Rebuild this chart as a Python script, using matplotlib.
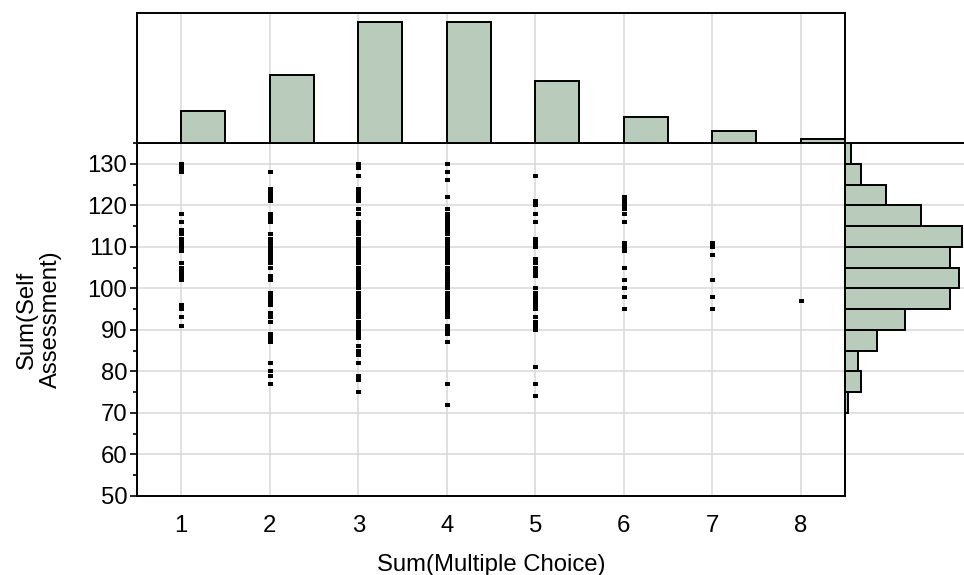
import numpy as np
import matplotlib
matplotlib.use("Agg")
import matplotlib.pyplot as plt
from matplotlib.ticker import MultipleLocator

plt.rcParams['font.family'] = ['Liberation Sans', 'DejaVu Sans']

# scatter points (unique x/y pairs) per Sum(Multiple Choice) value
col1 = [130, 129, 128, 118, 116, 114, 113, 112, 111, 110, 109, 106, 105, 104, 103, 102, 96, 95, 93, 91]
col2 = [128, 124, 123, 122, 121, 118, 117, 116, 113, 112, 111, 110, 109, 108, 107, 106, 105, 103, 102,
        99, 98, 97, 96, 94, 93, 92, 89, 88, 87, 82, 80, 79, 77]
col3 = [130, 129, 127, 124, 123, 122, 121, 119, 118, 116, 115, 114, 113, 112, 111, 110, 109, 108, 107,
        106, 105, 104, 103, 102, 101, 100, 99, 98, 97, 96, 95, 94, 93, 92, 91, 90, 89, 88, 86, 85, 84,
        82, 79, 78, 75]
col4 = [130, 128, 126, 122, 119, 118, 117, 116, 115, 114, 113, 112, 111, 110, 109, 108, 107, 106, 105,
        104, 103, 102, 101, 100, 99, 98, 97, 96, 95, 94, 93, 91, 90, 89, 87, 77, 72]
col5 = [127, 121, 120, 118, 116, 112, 111, 110, 107, 106, 105, 104, 103, 100, 99, 98, 97, 96, 95, 93,
        92, 91, 90, 81, 77, 74]
col6 = [122, 121, 120, 119, 118, 116, 111, 110, 109, 105, 102, 100, 98, 95]
col7 = [111, 110, 108, 102, 98, 95]
col8 = [97]
columns = [col1, col2, col3, col4, col5, col6, col7, col8]

# marginal histogram counts
mc_values = [1, 2, 3, 4, 5, 6, 7, 8]
mc_counts = [16, 34, 60, 60, 31, 13, 6, 2]
sa_bin_edges = [70, 75, 80, 85, 90, 95, 100, 105, 110, 115, 120, 125, 130, 135]
sa_counts = [1, 5, 4, 10, 19, 33, 36, 33, 37, 24, 13, 5, 2]

bar_color = '#b9cbbb'
grid_color = '#d9d9d9'
fs = 17.2

fig = plt.figure(figsize=(9.64, 5.75), dpi=100)
ax = fig.add_axes([0.1421, 0.1374, 0.7344, 0.6139])
ax_top = fig.add_axes([0.1421, 0.7513, 0.7344, 0.2261])
ax_right = fig.add_axes([0.8766, 0.1374, 0.1234, 0.6139])

# main scatter
rect = [(-1, -0.7), (1, -0.7), (1, 0.7), (-1, 0.7), (-1, -0.7)]
for xv, ys in zip(mc_values, columns):
    ax.plot([xv] * len(ys), ys, linestyle='none', marker=rect, markersize=3.6,
            color='black', markeredgewidth=0, zorder=3)

ax.set_xlim(0.5, 8.5)
ax.set_ylim(50, 135)
ax.set_xticks(mc_values)
ax.yaxis.set_major_locator(MultipleLocator(10))
ax.yaxis.set_minor_locator(MultipleLocator(5))
ax.set_yticks(np.arange(50, 131, 10))
ax.grid(True, color=grid_color, linewidth=1.1)
ax.set_axisbelow(True)
ax.tick_params(axis='both', which='major', direction='out', length=5, width=1.2,
               labelsize=fs, color='black', pad=2)
ax.tick_params(axis='y', which='minor', direction='out', length=3, width=1.2)
ax.tick_params(axis='x', which='major', length=0, pad=14)
for s in ax.spines.values():
    s.set_linewidth(1.4)
ax.set_xlabel('Sum(Multiple Choice)', fontsize=fs, labelpad=12)
ax.set_ylabel('Sum(Self\nAssessment)', fontsize=fs, labelpad=18, linespacing=1.15)

# top histogram
ax_top.bar(mc_values, mc_counts, width=0.5, align='edge', color=bar_color,
           edgecolor='black', linewidth=1.4, zorder=3)
ax_top.set_xlim(0.5, 8.5)
ax_top.set_ylim(0, max(mc_counts) * 1.078)
ax_top.set_xticks(mc_values)
ax_top.set_yticks([])
ax_top.xaxis.grid(True, color=grid_color, linewidth=1.1)
ax_top.set_axisbelow(True)
ax_top.tick_params(axis='x', length=0, labelbottom=False)
for s in ax_top.spines.values():
    s.set_linewidth(1.4)

# right histogram
ax_right.barh(sa_bin_edges[:-1], sa_counts, height=5, align='edge', color=bar_color,
              edgecolor='black', linewidth=1.4, zorder=3)
ax_right.set_ylim(50, 135)
ax_right.set_xlim(0, 37.5)
ax_right.set_yticks(np.arange(60, 131, 10))
ax_right.set_xticks([])
ax_right.yaxis.grid(True, color=grid_color, linewidth=1.1)
ax_right.set_axisbelow(True)
ax_right.tick_params(axis='y', length=0, labelleft=False)
for side in ['right', 'bottom']:
    ax_right.spines[side].set_visible(False)
ax_right.spines['left'].set_linewidth(1.4)
ax_right.spines['top'].set_linewidth(1.4)

fig.savefig('out.png', dpi=100)
